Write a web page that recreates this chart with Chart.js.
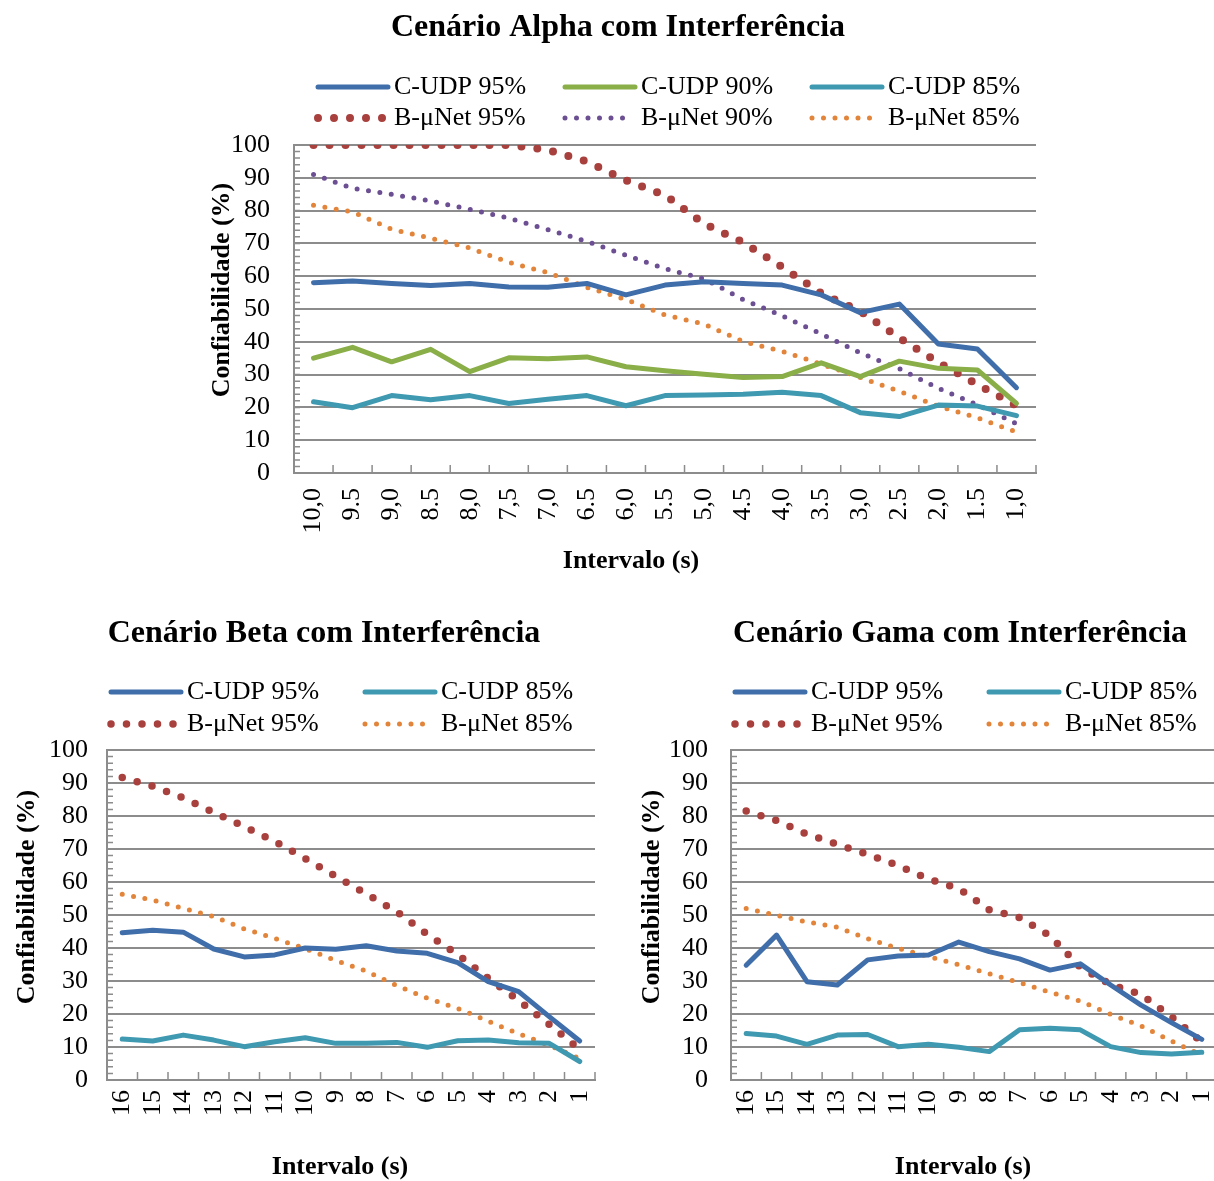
<!DOCTYPE html>
<html lang="pt-BR">
<head>
<meta charset="UTF-8">
<title>Confiabilidade com Interferência</title>
<script src="https://cdn.jsdelivr.net/npm/chart.js"></script>
<style>
  body { margin: 0; background: #fff; overflow: hidden; width: 1214px; height: 1181px; position: relative; }
  canvas { position: absolute; }
  #alpha { left: 190px; top: 0; }
  #beta { left: 0; top: 600px; }
  #gama { left: 614px; top: 600px; }
</style>
</head>
<body>
<canvas id="alpha" width="860" height="590"></canvas>
<canvas id="beta" width="610" height="590"></canvas>
<canvas id="gama" width="610" height="590"></canvas>
<script>
// rótulos do eixo x
const rotulosAlpha = ['10,0', '9.5', '9,0', '8.5', '8,0', '7,5', '7,0', '6.5', '6,0', '5.5', '5,0', '4.5', '4,0', '3.5', '3,0', '2.5', '2,0', '1.5', '1,0'];
const rotulosBetaGama = ['16', '15', '14', '13', '12', '11', '10', '9', '8', '7', '6', '5', '4', '3', '2', '1'];

// Cenário Alpha
const alphaCudp95 = [58, 58.5, 57.8, 57.2, 57.8, 56.7, 56.6, 57.8, 54.3, 57.3, 58.3, 57.8, 57.3, 54.3, 48.9, 51.5, 39.3, 37.8, 26];
const alphaCudp90 = [35, 38.3, 33.9, 37.7, 30.9, 35.1, 34.8, 35.4, 32.4, 31.2, 30.1, 29.1, 29.4, 33.6, 29.4, 34.1, 31.9, 31.4, 21.2];
const alphaCudp85 = [21.7, 19.9, 23.6, 22.3, 23.6, 21.2, 22.5, 23.6, 20.5, 23.6, 23.8, 24, 24.6, 23.6, 18.4, 17.2, 20.7, 20.4, 17.5];
const alphaBunet95 = [100, 100, 100, 100, 100, 100, 98.5, 95, 89.2, 84.7, 76, 70.3, 62.8, 54.8, 49.3, 41.2, 33.7, 27, 20.5];
const alphaBunet90 = [91, 86.8, 85, 82.9, 80.4, 77.7, 74.2, 70.6, 66.4, 62.3, 59.2, 52.9, 47.9, 42.4, 36.6, 31.8, 25.8, 20.8, 15];
const alphaBunet85 = [81.6, 79.6, 74.3, 71.6, 68.6, 64.2, 61.1, 56.6, 52.9, 48.2, 45.4, 40.1, 37.1, 33.2, 29.1, 24.9, 20.4, 16.8, 12.5];

// Cenário Beta
const betaCudp95 = [44.6, 45.4, 44.8, 39.7, 37.3, 37.9, 40, 39.6, 40.7, 39.1, 38.4, 35.6, 29.8, 26.8, 19.2, 11.8];
const betaCudp85 = [12.4, 11.8, 13.6, 12.1, 10.1, 11.6, 12.8, 11.1, 11.1, 11.4, 9.9, 11.9, 12.1, 11.3, 11.1, 5.6];
const betaBunet95 = [91.7, 89, 85.5, 81.1, 76.8, 72.3, 67.1, 61.7, 56.4, 51, 44.2, 38, 30.8, 24.1, 16.8, 9.3];
const betaBunet85 = [56.3, 54.5, 52, 49.5, 45.8, 42.9, 39.8, 36.2, 33, 28.6, 24.8, 21.7, 17.8, 14, 10.5, 6.5];

// Cenário Gama
const gamaCudp95 = [34.8, 43.9, 29.8, 28.8, 36.4, 37.6, 37.9, 41.8, 38.9, 36.7, 33.3, 35.2, 28.8, 22.7, 17.4, 12.3];
const gamaCudp85 = [14.1, 13.3, 10.8, 13.6, 13.8, 10.1, 10.8, 9.9, 8.6, 15.2, 15.7, 15.2, 10.1, 8.3, 7.9, 8.4];
const gamaBunet95 = [81.5, 78.6, 74.5, 71.4, 68.4, 65, 60.9, 58, 51.6, 49.2, 43.7, 34.2, 28.9, 25.9, 19.2, 11.5];
const gamaBunet85 = [52, 49.9, 47.9, 46.3, 42.8, 39.9, 37.4, 34.9, 32.2, 29.5, 26.6, 23.9, 19.9, 16.4, 11.8, 7.5];

const tituloEixoX = 'Intervalo (s)';
const tituloEixoY = 'Confiabilidade (%)';

const cinza = '#8C8C8C';
const familia = '"Liberation Serif", "Times New Roman", serif';
const fonteEixo = { family: familia, size: 26 };

// título, legenda, títulos dos eixos e marcas internas
const moldura = {
    id: 'moldura',
    afterDraw(chart, args, o) {
        const { ctx, chartArea: a, scales: { x, y } } = chart;
        ctx.save();
        ctx.strokeStyle = cinza;
        ctx.lineWidth = 1.5;
        ctx.beginPath();
        for (let v = 0; v <= 100; v += 2) {
            const py = y.getPixelForValue(v);
            ctx.moveTo(a.left, py);
            ctx.lineTo(a.left + 6, py);
        }
        for (let i = 0; i <= chart.data.labels.length; i++) {
            const px = x.getPixelForValue(i - 0.5);
            ctx.moveTo(px, a.bottom);
            ctx.lineTo(px, a.bottom - 8);
        }
        ctx.stroke();

        ctx.fillStyle = '#000';
        ctx.textAlign = 'center';
        ctx.textBaseline = 'middle';
        ctx.font = 'bold 32px ' + familia;
        ctx.fillText(o.titulo, o.tituloX, o.tituloY);
        ctx.font = 'bold 26px ' + familia;
        ctx.fillText(tituloEixoX, o.eixoX[0], o.eixoX[1]);
        ctx.save();
        ctx.translate(o.eixoY[0], o.eixoY[1]);
        ctx.rotate(-Math.PI / 2);
        ctx.fillText(tituloEixoY, 0, 0);
        ctx.restore();

        // legenda
        ctx.font = '26px ' + familia;
        ctx.textAlign = 'left';
        chart.data.datasets.forEach((ds, i) => {
            const lx = o.legendaX[i], ly = o.legendaY[i];
            const comprimento = ds.borderWidth < 6 && ds.borderDash.length ? 63 : 70;
            ctx.strokeStyle = ds.borderColor;
            ctx.lineWidth = ds.borderWidth;
            ctx.lineCap = 'round';
            ctx.setLineDash(ds.borderDash || []);
            ctx.beginPath();
            ctx.moveTo(lx, ly);
            ctx.lineTo(lx + comprimento, ly);
            ctx.stroke();
            ctx.setLineDash([]);
            ctx.fillText(ds.label, lx + 76, ly);
        });
        ctx.restore();
    }
};

function serie(nome, dados, cor, largura, traco) {
    return {
        label: nome, data: dados, borderColor: cor, backgroundColor: cor,
        borderWidth: largura, borderDash: traco, borderCapStyle: 'round', borderJoinStyle: 'round',
        pointRadius: 0, tension: 0, fill: false
    };
}

function criarGrafico(id, rotulos, series, cfg, textos) {
    new Chart(document.getElementById(id), {
        type: 'line',
        data: { labels: rotulos, datasets: series },
        options: {
            responsive: false,
            animation: false,
            events: [],
            layout: { padding: { top: cfg.topo, right: cfg.direita, bottom: 0, left: 0 } },
            plugins: {
                legend: { display: false },
                tooltip: { enabled: false },
                moldura: textos
            },
            scales: {
                x: {
                    offset: true,
                    grid: { display: true, drawOnChartArea: false, drawTicks: false },
                    border: { color: cinza, width: 2 },
                    ticks: { color: '#000', font: fonteEixo, minRotation: 90, maxRotation: 90, autoSkip: false, padding: cfg.padX },
                    afterFit: s => { s.height = cfg.alturaX; s.paddingLeft = 0; s.paddingRight = 0; }
                },
                y: {
                    min: 0, max: 100,
                    ticks: { stepSize: 10, autoSkip: false, color: '#000', font: fonteEixo, padding: cfg.padY },
                    grid: { color: cinza, lineWidth: 2, drawTicks: false },
                    border: { color: cinza, width: 2 },
                    afterFit: s => { s.width = cfg.larguraY; s.paddingTop = 0; s.paddingBottom = 0; }
                }
            }
        },
        plugins: [moldura]
    });
}

const azul = '#3F6EAA', verde = '#8AAE48', ciano = '#3F99B1', vermelho = '#A8403D', roxo = '#6C4F92', laranja = '#E2843A';

criarGrafico('alpha', rotulosAlpha, [
    serie('C-UDP 95%', alphaCudp95, azul, 5, []),
    serie('C-UDP 90%', alphaCudp90, verde, 5, []),
    serie('C-UDP 85%', alphaCudp85, ciano, 5, []),
    serie('B-\u03bcNet 95%', alphaBunet95, vermelho, 8, [0, 16]),
    serie('B-\u03bcNet 90%', alphaBunet90, roxo, 5, [0, 11.5]),
    serie('B-\u03bcNet 85%', alphaBunet85, laranja, 5, [0, 11.5])
], { topo: 145, direita: 14, alturaX: 117, larguraY: 104, padX: 15, padY: 24 }, {
    titulo: 'Cenário Alpha com Interferência', tituloX: 428, tituloY: 28,
    eixoX: [441, 561], eixoY: [32, 290],
    legendaX: [128, 375, 622, 128, 375, 622],
    legendaY: [87, 87, 87, 118, 118, 118]
});

criarGrafico('beta', rotulosBetaGama, [
    serie('C-UDP 95%', betaCudp95, azul, 5, []),
    serie('C-UDP 85%', betaCudp85, ciano, 5, []),
    serie('B-\u03bcNet 95%', betaBunet95, vermelho, 7.5, [0, 15.5]),
    serie('B-\u03bcNet 85%', betaBunet85, laranja, 5, [0, 11.5])
], { topo: 150, direita: 15, alturaX: 110, larguraY: 107, padX: 10, padY: 19 }, {
    titulo: 'Cenário Beta com Interferência', tituloX: 324, tituloY: 34,
    eixoX: [340, 567], eixoY: [27, 297],
    legendaX: [111, 365, 111, 365],
    legendaY: [92, 92, 124, 124]
});

criarGrafico('gama', rotulosBetaGama, [
    serie('C-UDP 95%', gamaCudp95, azul, 5, []),
    serie('C-UDP 85%', gamaCudp85, ciano, 5, []),
    serie('B-\u03bcNet 95%', gamaBunet95, vermelho, 7.5, [0, 15.5]),
    serie('B-\u03bcNet 85%', gamaBunet85, laranja, 5, [0, 11.5])
], { topo: 150, direita: 7, alturaX: 110, larguraY: 117, padX: 10, padY: 23 }, {
    titulo: 'Cenário Gama com Interferência', tituloX: 346, tituloY: 34,
    eixoX: [349, 567], eixoY: [38, 297],
    legendaX: [121, 375, 121, 375],
    legendaY: [92, 92, 124, 124]
});
</script>
</body>
</html>
